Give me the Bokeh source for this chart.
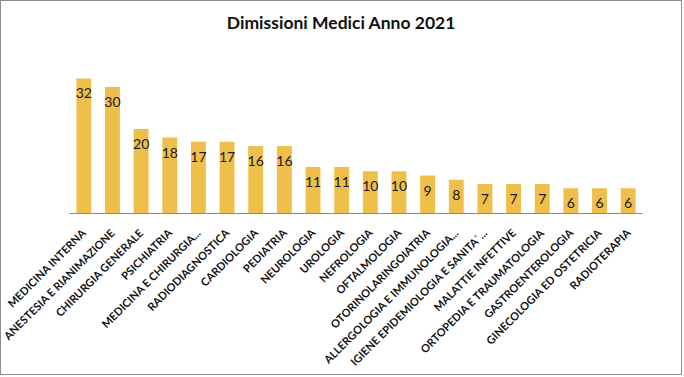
import math
from bokeh.plotting import figure
from bokeh.models import ColumnDataSource, Range1d, Label
from bokeh.core.properties import value
from bokeh.embed import file_html
from bokeh.resources import INLINE

categories = ["MEDICINA INTERNA", "ANESTESIA E RIANIMAZIONE", "CHIRURGIA GENERALE",
              "PSICHIATRIA", "MEDICINA E CHIRURGIA...", "RADIODIAGNOSTICA",
              "CARDIOLOGIA", "PEDIATRIA", "NEUROLOGIA", "UROLOGIA", "NEFROLOGIA",
              "OFTALMOLOGIA", "OTORINOLARINGOIATRIA", "ALLERGOLOGIA E IMMUNOLOGIA...",
              "IGIENE EPIDEMIOLOGIA E SANITA`...", "MALATTIE INFETTIVE",
              "ORTOPEDIA E TRAUMATOLOGIA", "GASTROENTEROLOGIA",
              "GINECOLOGIA ED OSTETRICIA", "RADIOTERAPIA"]
values = [32, 30, 20, 18, 17, 17, 16, 16, 11, 11, 10, 10, 9, 8, 7, 7, 7, 6, 6, 6]
labels = [str(v) for v in values]
title_text = "Dimissioni Medici Anno 2021"

src = ColumnDataSource(dict(cat=categories, val=values, lab=labels))

p = figure(x_range=categories, y_range=Range1d(0, 50.25), width=682, height=375,
           output_backend="svg", toolbar_location=None,
           min_border_left=68, min_border_right=41, min_border_top=0, min_border_bottom=163)
p.styles = {"border": "1px solid #8c8c8c"}

p.add_layout(Label(x=9.49, y=45.27, text=title_text, text_align="center",
                   text_baseline="middle", text_font="Lato", text_font_size="17.5px",
                   text_font_style="bold", text_color="#111111"))

p.vbar(x="cat", top="val", width=0.52, source=src, fill_color="#EEBF4A", line_color=None)
p.text(x="cat", y="val", text="lab", source=src, text_align="center", text_baseline="middle",
       y_offset=15, text_font=value("Lato"), text_font_size="14px", text_color="#1a1a1a")

p.yaxis.visible = False
p.xgrid.visible = False
p.ygrid.visible = False
p.outline_line_color = None
p.xaxis.axis_line_color = "#888888"
p.xaxis.major_tick_line_color = None
p.xaxis.minor_tick_line_color = None
p.xaxis.major_label_orientation = math.pi / 4
p.xaxis.major_label_text_font = "Lato"
p.xaxis.major_label_text_font_style = "bold"
p.xaxis.major_label_text_font_size = "11px"
p.xaxis.major_label_text_color = "#111111"
p.xaxis.major_label_standoff = 11

open("out.html", "w").write(file_html(p, INLINE))
